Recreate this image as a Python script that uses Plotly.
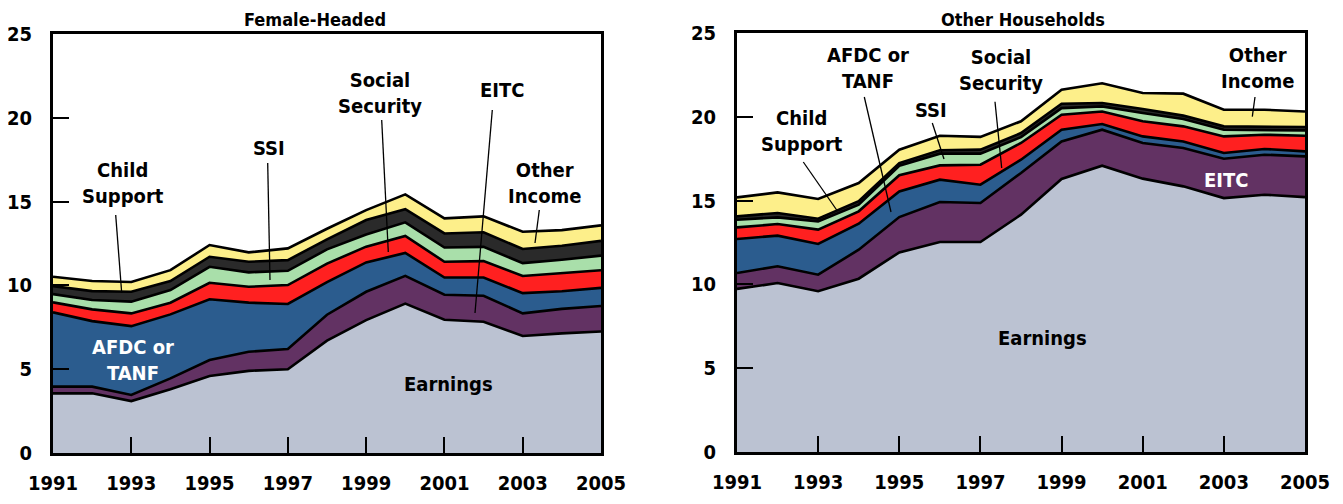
import plotly.graph_objects as go

years = list(range(1991, 2006))
layer_names = ["Earnings", "EITC", "AFDC or TANF", "Social Security", "SSI", "Child Support", "Other Income"]
layer_colors = ["#BBC2D2", "#623263", "#2B5C8E", "#FF2020", "#A9DFAA", "#2A2A2A", "#FDEF8A"]

# Female-headed households, thousands of dollars per layer
fh_earnings = [3.56, 3.56, 3.10, 3.80, 4.60, 4.90, 5.00, 6.70, 7.93, 8.91, 7.95, 7.83, 6.98, 7.14, 7.25]
fh_eitc = [0.40, 0.40, 0.36, 0.65, 0.95, 1.14, 1.20, 1.55, 1.69, 1.66, 1.49, 1.55, 1.35, 1.46, 1.52]
fh_afdc = [4.43, 3.91, 4.11, 3.82, 3.62, 2.93, 2.69, 1.95, 1.75, 1.37, 1.03, 1.09, 1.21, 1.05, 1.08]
fh_socsec = [0.60, 0.70, 0.76, 0.70, 0.99, 0.95, 1.13, 1.10, 0.94, 1.01, 0.94, 0.98, 1.02, 1.10, 1.05]
fh_ssi = [0.49, 0.56, 0.70, 0.75, 0.95, 0.86, 0.85, 0.85, 0.73, 0.81, 0.85, 0.85, 0.77, 0.78, 0.88]
fh_child = [0.48, 0.53, 0.59, 0.54, 0.60, 0.63, 0.64, 0.60, 0.86, 0.79, 0.84, 0.87, 0.84, 0.84, 0.88]
fh_other = [0.56, 0.60, 0.58, 0.65, 0.70, 0.56, 0.70, 0.63, 0.59, 0.88, 0.90, 0.95, 1.03, 0.93, 0.92]

# Other households
oh_earnings = [9.73, 10.08, 9.59, 10.34, 11.91, 12.53, 12.53, 14.16, 16.29, 17.08, 16.31, 15.85, 15.15, 15.35, 15.21]
oh_eitc = [0.95, 1.00, 0.99, 1.73, 2.11, 2.39, 2.33, 2.49, 2.24, 2.15, 2.13, 2.29, 2.35, 2.39, 2.43]
oh_afdc = [2.03, 1.83, 1.83, 1.55, 1.53, 1.33, 1.09, 0.79, 0.70, 0.34, 0.39, 0.39, 0.34, 0.34, 0.30]
oh_socsec = [0.69, 0.69, 0.86, 0.74, 0.96, 0.85, 1.19, 1.00, 0.89, 0.75, 0.90, 0.90, 0.99, 0.85, 0.93]
oh_ssi = [0.46, 0.40, 0.49, 0.40, 0.57, 0.70, 0.66, 0.35, 0.40, 0.30, 0.50, 0.44, 0.40, 0.30, 0.32]
oh_child = [0.20, 0.26, 0.16, 0.20, 0.16, 0.20, 0.24, 0.24, 0.26, 0.20, 0.24, 0.20, 0.20, 0.20, 0.20]
oh_other = [1.13, 1.23, 1.18, 1.09, 0.80, 0.87, 0.76, 0.70, 0.84, 1.18, 0.95, 1.31, 0.99, 0.99, 0.93]

x_ticks = [1991, 1993, 1995, 1997, 1999, 2001, 2003, 2005]
y_ticks = [0, 5, 10, 15, 20, 25]

# the page body keeps its default 8px margin, so the figure is drawn 8px in
PAD = 8
W, H = 1343 - 2 * PAD, 504 - 2 * PAD
FONT = "Liberation Sans Narrow, DejaVu Sans Condensed, sans-serif"

fig = go.Figure()

panels = [
    ("x", "y", "fh", [fh_earnings, fh_eitc, fh_afdc, fh_socsec, fh_ssi, fh_child, fh_other]),
    ("x2", "y2", "oh", [oh_earnings, oh_eitc, oh_afdc, oh_socsec, oh_ssi, oh_child, oh_other]),
]
for xa, ya, grp, layers in panels:
    for name, color, vals in zip(layer_names, layer_colors, layers):
        fig.add_trace(go.Scatter(
            x=years, y=vals, name=name, xaxis=xa, yaxis=ya,
            stackgroup=grp, mode="lines",
            line=dict(color="black", width=2.6),
            fillcolor=color, showlegend=False, hoverinfo="skip",
        ))


def px(x, y):
    return (x - PAD) / W, 1 - (y - PAD) / H


def xdom(a, b):
    return [px(a, 0)[0], px(b, 0)[0]]


def ydom(top, bottom):
    return [px(0, bottom)[1], px(0, top)[1]]


axis_common = dict(
    showline=True, linecolor="black", linewidth=3, mirror=True,
    ticks="inside", ticklen=16, tickcolor="black", tickwidth=1.5,
    showgrid=False, zeroline=False, automargin=False,
    tickfont=dict(family=FONT, size=20, color="black", weight="bold"),
)

fig.update_layout(
    width=W, height=H,
    margin=dict(l=0, r=0, t=0, b=0),
    paper_bgcolor="white", plot_bgcolor="white",
    showlegend=False,
    xaxis=dict(axis_common, domain=xdom(53, 601), range=[1991, 2005],
               tickvals=x_ticks, ticklabelstandoff=10, anchor="y"),
    yaxis=dict(axis_common, domain=ydom(34, 453), range=[0, 25],
               tickvals=y_ticks, ticklabelstandoff=14, anchor="x"),
    xaxis2=dict(axis_common, domain=xdom(737, 1305), range=[1991, 2005],
                tickvals=x_ticks, ticklabelstandoff=10, anchor="y2"),
    yaxis2=dict(axis_common, domain=ydom(33, 452), range=[0, 25],
                tickvals=y_ticks, ticklabelstandoff=14, anchor="x2"),
)

annotations = []
shapes = []


def label(text, x, y, color="black", size=20):
    ax, ay = px(x, y)
    annotations.append(dict(
        text=text, x=ax, y=ay, xref="paper", yref="paper", showarrow=False,
        xanchor="center", yanchor="middle",
        font=dict(family=FONT, size=size, color=color, weight="bold"),
    ))


def pointer(x0, y0, x1, y1):
    a0, b0 = px(x0, y0)
    a1, b1 = px(x1, y1)
    shapes.append(dict(type="line", xref="paper", yref="paper",
                       x0=a0, y0=b0, x1=a1, y1=b1,
                       line=dict(color="black", width=1.3)))


# panel titles
label("Female-Headed", 315, 19, size=18)
label("Other Households", 1023, 19, size=18)

# female-headed labels
label("Child<br>Support", 123, 183)
pointer(115.7, 215, 121.7, 293)
label("SSI", 269, 148)
pointer(267.7, 163, 270, 280)
label("Social<br>Security", 380, 93)
pointer(381.7, 120, 388.3, 252)
label("EITC", 502, 90)
pointer(492.3, 110, 475, 313)
label("Other<br>Income", 545, 183)
pointer(539.3, 210, 535, 243)
label("AFDC or<br>TANF", 133, 360, color="white")
label("Earnings", 448, 384)

# other households labels
label("Child<br>Support", 802, 131)
pointer(803.3, 162, 836.7, 210)
label("AFDC or<br>TANF", 868, 68)
pointer(864.3, 97, 891, 212)
label("SSI", 931, 110)
pointer(932.3, 123, 944, 159)
label("Social<br>Security", 1001, 70)
pointer(995, 101.7, 1001.7, 168)
label("Other<br>Income", 1258, 68)
pointer(1255, 97, 1252.3, 116.7)
label("EITC", 1226, 180, color="white")
label("Earnings", 1042, 338)

fig.update_layout(annotations=annotations, shapes=shapes)

fig.write_html("out.html")
